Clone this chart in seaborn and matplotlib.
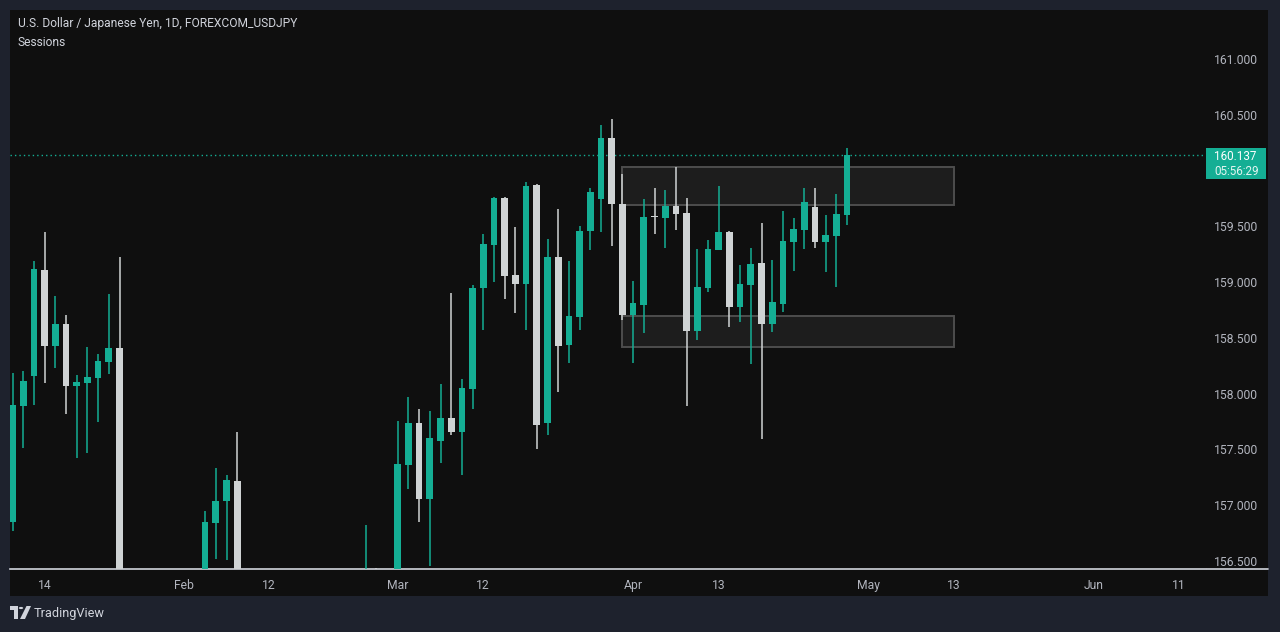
import numpy as np
import pandas as pd
import matplotlib
matplotlib.use("Agg")
import matplotlib.pyplot as plt
from matplotlib.patches import Rectangle, Polygon, Circle
from matplotlib.lines import Line2D
import seaborn as sns

# ---------------- data ----------------
start_date = "2026-01-09"
end_date = "2026-04-29"

opens = [156.852, 157.892, 158.161, 159.109, 158.430, 158.625, 158.071, 158.098, 158.143, 158.287,
         158.409, 156.050, 155.450, 154.850, 155.100, 154.800, 155.200, 155.600, 156.000, 156.843,
         157.041, 157.217, 156.100, 155.700, 155.300, 154.950, 155.200, 155.000, 154.700, 154.900,
         155.250, 155.500, 155.700, 155.800, 156.200, 155.900, 156.050, 157.363, 157.737, 157.059,
         157.578, 157.782, 157.659, 158.045, 158.950, 159.335, 159.754, 159.064, 158.986, 159.871,
         157.740, 159.225, 158.439, 158.690, 159.461, 159.748, 160.292, 159.700, 158.708, 158.798,
         159.584, 159.577, 159.682, 159.620, 158.565, 158.950, 159.291, 159.449, 158.780, 158.977,
         159.171, 158.627, 158.807, 159.362, 159.470, 159.673, 159.362, 159.416, 159.604]
highs = [158.183, 158.203, 159.189, 159.449, 158.876, 158.705, 158.167, 158.421, 158.358, 158.893,
         159.225, 156.300, 155.700, 155.300, 155.400, 155.450, 155.800, 156.200, 156.948, 157.334,
         157.271, 157.656, 156.350, 156.000, 155.600, 155.400, 155.500, 155.300, 155.100, 155.400,
         155.700, 155.900, 156.100, 156.823, 156.440, 156.300, 157.755, 157.970, 157.863, 157.845,
         158.087, 158.902, 158.132, 158.974, 159.431, 159.760, 159.760, 159.494, 159.897, 159.880,
         159.387, 159.655, 159.189, 159.503, 159.844, 160.408, 160.462, 159.969, 159.010, 159.745,
         159.844, 159.826, 160.032, 159.754, 159.297, 159.378, 159.862, 159.458, 159.153, 159.306,
         159.530, 159.198, 159.637, 159.575, 159.844, 159.844, 159.602, 159.790, 160.202]
lows = [156.772, 157.516, 157.901, 158.098, 158.233, 157.820, 157.426, 157.471, 157.749, 158.179,
        155.900, 155.200, 154.600, 154.400, 154.500, 154.550, 155.000, 155.400, 155.850, 156.521,
        156.512, 155.900, 155.500, 155.100, 154.700, 154.600, 154.800, 154.500, 154.400, 154.700,
        155.000, 155.200, 155.400, 155.600, 155.700, 155.500, 155.950, 157.148, 156.852, 156.458,
        157.381, 157.632, 157.274, 157.865, 158.573, 159.004, 158.851, 158.726, 158.573, 157.507,
        157.632, 158.018, 158.278, 158.573, 159.291, 159.452, 159.326, 158.663, 158.278, 158.547,
        159.434, 159.309, 159.470, 157.892, 158.484, 158.914, 159.288, 158.600, 158.645, 158.269,
        157.591, 158.556, 158.735, 159.102, 159.300, 159.309, 159.093, 158.959, 159.515]
closes = [157.898, 158.114, 159.118, 158.430, 158.625, 158.071, 158.105, 158.149, 158.293, 158.409,
          156.050, 155.450, 154.850, 155.100, 154.800, 155.200, 155.600, 156.000, 156.850, 157.038,
          157.226, 156.100, 155.700, 155.300, 154.950, 155.200, 155.000, 154.700, 154.900, 155.250,
          155.500, 155.700, 155.800, 156.200, 155.900, 156.050, 157.370, 157.737, 157.059, 157.603,
          157.782, 157.659, 158.051, 158.947, 159.342, 159.754, 159.057, 158.986, 159.862, 157.722,
          159.225, 158.430, 158.696, 159.458, 159.808, 160.292, 159.703, 158.708, 158.813, 159.584,
          159.580, 159.682, 159.613, 158.565, 158.956, 159.297, 159.449, 158.780, 158.983, 159.162,
          158.627, 158.822, 159.369, 159.476, 159.718, 159.362, 159.422, 159.611, 160.137]

# horizontal zones (supply / demand boxes)
zone_start = "2026-03-31"
zone_end = "2026-05-13"
zone_tops = [160.029, 158.694]
zone_bottoms = [159.689, 158.416]

last_price = 160.137
countdown = "05:56:29"

price_ticks = [156.5, 157.0, 157.5, 158.0, 158.5, 159.0, 159.5, 160.0, 160.5, 161.0]
tick_dates = ["2026-01-14", "2026-02-02", "2026-02-12", "2026-03-02", "2026-03-12",
              "2026-04-01", "2026-04-13", "2026-05-01", "2026-05-13", "2026-06-01", "2026-06-11"]
tick_labels = ["14", "Feb", "12", "Mar", "12", "Apr", "13", "May", "13", "Jun", "11"]

title = "U.S. Dollar / Japanese Yen, 1D, FOREXCOM_USDJPY"
subtitle = "Sessions"

# ---------------- style ----------------
sns.set_theme(style="dark")
plt.rcParams["font.family"] = ["Roboto", "DejaVu Sans"]

UP = "#14ae94"
DOWN = "#cfd3d4"
BG_OUT = "#1e222d"
BG_IN = "#0f0f0f"
TXT = "#b2b5be"

W, H = 1280, 632
fig = plt.figure(figsize=(W / 100, H / 100), dpi=100, facecolor=BG_OUT)

def fx(px):
    return px / W

def fy(py):
    return 1 - py / H

# inner panel
fig.add_artist(Rectangle((fx(10), fy(596)), fx(1268) - fx(10), fy(10) - fy(596),
                         transform=fig.transFigure, facecolor=BG_IN, edgecolor="none", zorder=0))

ax = fig.add_axes([fx(10), fy(569), fx(1206) - fx(10), fy(10) - fy(569)])
ax.set_facecolor(BG_IN)

axis_days = pd.bdate_range(start_date, "2026-06-30")
df = pd.DataFrame({
    "date": pd.bdate_range(start_date, end_date),
    "open": opens, "high": highs, "low": lows, "close": closes,
})
df["x"] = [axis_days.get_loc(d) for d in df["date"]]
df["color"] = np.where(df["close"] >= df["open"], UP, DOWN)
df["body_lo"] = df[["open", "close"]].min(axis=1)
df["body_h"] = (df["close"] - df["open"]).abs().clip(lower=0.012)

# zones
zs = axis_days.get_loc(pd.Timestamp(zone_start))
ze = axis_days.get_loc(pd.Timestamp(zone_end))
for top, bot in zip(zone_tops, zone_bottoms):
    ax.add_patch(Rectangle((zs, bot), ze - zs, top - bot, facecolor="#1d1d1d",
                           edgecolor="#4d4d4d", lw=1.4, zorder=1))

# candles
ax.vlines(df["x"], df["low"], df["high"], colors=df["color"], lw=1.1, zorder=3)
ax.bar(df["x"], df["body_h"], bottom=df["body_lo"], width=0.63, color=df["color"],
       edgecolor="none", zorder=4)

# last price dotted line
ax.axhline(last_price, color=UP, lw=1, ls=(0, (1, 2.2)), zorder=2)

ax.set_xlim(-0.234, 111.54)
ax.set_ylim(156.428, 161.439)

ax.yaxis.tick_right()
ax.set_yticks(price_ticks)
ax.set_yticklabels([f"{v:.3f}" for v in price_ticks])
ax.tick_params(axis="y", length=0, pad=6, labelcolor=TXT, labelsize=8.7)

ax.set_xticks([axis_days.get_loc(pd.Timestamp(d)) for d in tick_dates])
ax.set_xticklabels(tick_labels)
ax.tick_params(axis="x", length=0, pad=7, labelcolor=TXT, labelsize=8.7)
ax.grid(False)
for s in ["top", "left", "right"]:
    ax.spines[s].set_visible(False)
ax.spines["bottom"].set_color("#d1d4dc")
ax.spines["bottom"].set_linewidth(1.2)
ax.set_xlabel("")
ax.set_ylabel("")

# bottom line continuing under price scale
fig.add_artist(Line2D([fx(1207), fx(1268)], [fy(569), fy(569)], color="#d1d4dc", lw=1.2,
                      transform=fig.transFigure))

# last price label
fig.add_artist(Rectangle((fx(1206), fy(179)), fx(1266) - fx(1206), fy(148) - fy(179),
                         transform=fig.transFigure, facecolor=UP, edgecolor="none", zorder=5))
fig.text(fx(1214), fy(156.5), f"{last_price:.3f}", color="white", fontsize=8.4,
         va="center", ha="left", zorder=6)
fig.text(fx(1214), fy(171.5), countdown, color="#e3f5f1", fontsize=8.4,
         va="center", ha="left", zorder=6)

# header text
fig.text(fx(18), fy(24), title, color="#d1d4dc", fontsize=8.65, va="center", ha="left")
fig.text(fx(18), fy(42), subtitle, color="#d1d4dc", fontsize=8.65, va="center", ha="left")

# TradingView logo
logo_c = "#d1d4dc"
fig.add_artist(Polygon([(fx(10), fy(606)), (fx(18), fy(606)), (fx(18), fy(619)),
                        (fx(14), fy(619)), (fx(14), fy(610)), (fx(10), fy(610))],
                       closed=True, transform=fig.transFigure, facecolor=logo_c, edgecolor="none"))
fig.add_artist(Circle((fx(21), fy(608)), 2.2 / W, transform=fig.transFigure,
                      facecolor=logo_c, edgecolor="none"))
fig.add_artist(Polygon([(fx(20), fy(619)), (fx(25), fy(619)), (fx(31), fy(606)), (fx(26.5), fy(606))],
                       closed=True, transform=fig.transFigure, facecolor=logo_c, edgecolor="none"))
fig.text(fx(34), fy(613.5), "TradingView", color=logo_c, fontsize=9.2, va="center", ha="left")

fig.savefig("out.png", dpi=100, facecolor=BG_OUT)
